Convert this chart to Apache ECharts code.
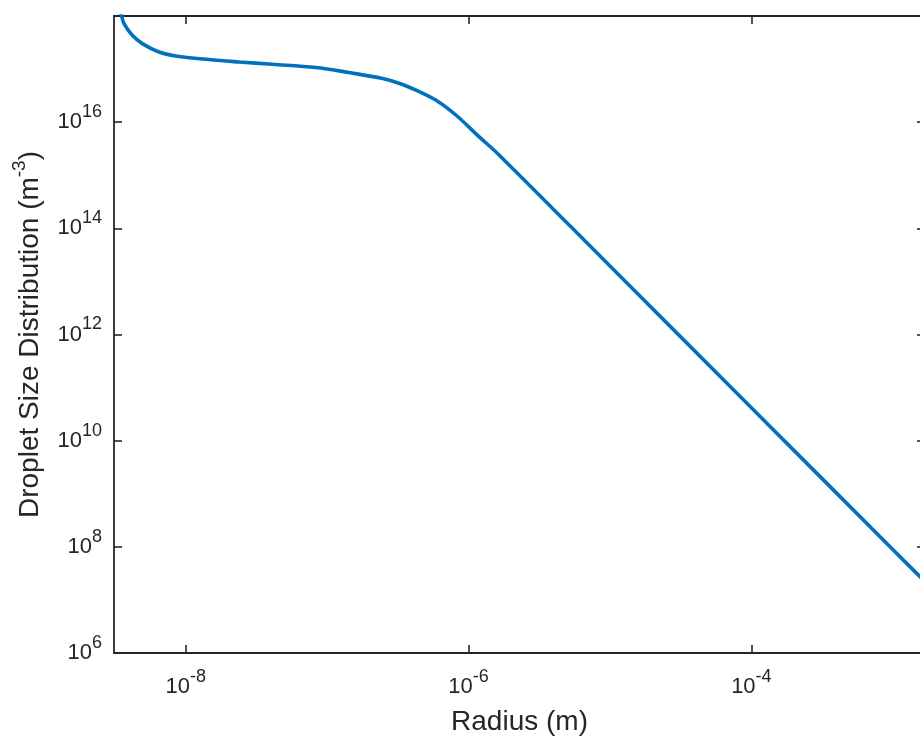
<!DOCTYPE html>
<html><head><meta charset="utf-8">
<script src="https://cdn.jsdelivr.net/npm/echarts@6/dist/echarts.min.js"></script>
<style>html,body{margin:0;padding:0;background:#fff}#c{width:920px;height:744px}</style>
</head><body><div id="c"></div>
<script>
// Data
const radius = [3.11e-9, 3.52e-9, 3.66e-9, 4.19e-9, 4.93e-9, 6.47e-9, 8.49e-9, 1.46e-8, 2.38e-8, 4.10e-8, 8.32e-8, 1.43e-7, 2.47e-7, 3.30e-7, 4.25e-7, 5.89e-7, 8.17e-7, 1.19e-6, 1.65e-6, 1e-5, 1e-4, 1e-3, 1.69e-3];
const distribution = [2.8e18, 1.0e18, 7.2e17, 4.34e17, 3.02e17, 2.10e17, 1.77e17, 1.51e17, 1.36e17, 1.23e17, 1.07e17, 8.6e16, 6.64e16, 5.3e16, 4.0e16, 2.59e16, 1.35e16, 5.28e15, 2.39e15, 1.95e13, 4.17e10, 8.9e7, 2.21e7];
const xTickValues = [1e-8, 1e-6, 1e-4];
const yTickValues = [1e6, 1e8, 1e10, 1e12, 1e14, 1e16, 1e18];
const xRange = [3.11e-9, 1.69e-3];
const yRange = [1e6, 1e18];
const xName = 'Radius (m)';
const yName = 'Droplet Size Distribution (m{s|-3})';

const ink = '#262626';
const font = 'Liberation Sans, Arial, Helvetica, sans-serif';
const rich = {
  b: { fontSize: 22, fontFamily: font, color: ink },
  s: { fontSize: 18, fontFamily: font, color: ink, padding: [0, 0, 20, 0] }
};
const pow10 = v => '{b|10}{s|' + Math.round(Math.log10(v)) + '}';

const lineStyle = { color: ink, width: 1.8 };
const tickStyle = { inside: true, length: 8, lineStyle: { color: ink, width: 1.6 } };

function xAx(pos, main) {
  return {
    type: 'log', logBase: 10, position: pos, min: xRange[0], max: xRange[1],
    axisLine: { show: true, onZero: false, lineStyle },
    axisTick: Object.assign({ show: true, customValues: xTickValues }, tickStyle),
    axisLabel: { show: main, customValues: xTickValues, formatter: pow10, margin: 15, rich },
    splitLine: { show: false }, minorTick: { show: false },
    name: main ? xName : '', nameLocation: 'middle', nameGap: 55,
    nameTextStyle: { fontSize: 28, fontFamily: font, color: ink }
  };
}
function yAx(pos, main) {
  return {
    type: 'log', logBase: 10, position: pos, min: yRange[0], max: yRange[1],
    axisLine: { show: true, onZero: false, lineStyle },
    axisTick: Object.assign({ show: true, customValues: yTickValues }, tickStyle),
    axisLabel: { show: main, customValues: yTickValues, formatter: pow10, margin: 12, rich },
    splitLine: { show: false }, minorTick: { show: false },
    name: main ? yName : '', nameLocation: 'middle', nameGap: 63,
    nameTextStyle: { fontSize: 28, fontFamily: font, color: ink,
      rich: { s: { fontSize: 19, fontFamily: font, color: ink, padding: [0, 0, 22, 0] } } }
  };
}

const chart = echarts.init(document.getElementById('c'), null, { renderer: 'canvas' });
chart.setOption({
  animation: false,
  backgroundColor: '#ffffff',
  grid: { left: 114, top: 16, width: 811, height: 637, containLabel: false, outerBoundsMode: 'none' },
  xAxis: [xAx('bottom', true), xAx('top', false)],
  yAxis: [yAx('left', true), yAx('right', false)],
  series: [{
    type: 'line', xAxisIndex: 0, yAxisIndex: 0,
    data: radius.map((r, i) => [r, distribution[i]]),
    showSymbol: false, smooth: 0.35, clip: true,
    lineStyle: { color: '#0072BD', width: 3.6 }
  }]
});
</script></body></html>
